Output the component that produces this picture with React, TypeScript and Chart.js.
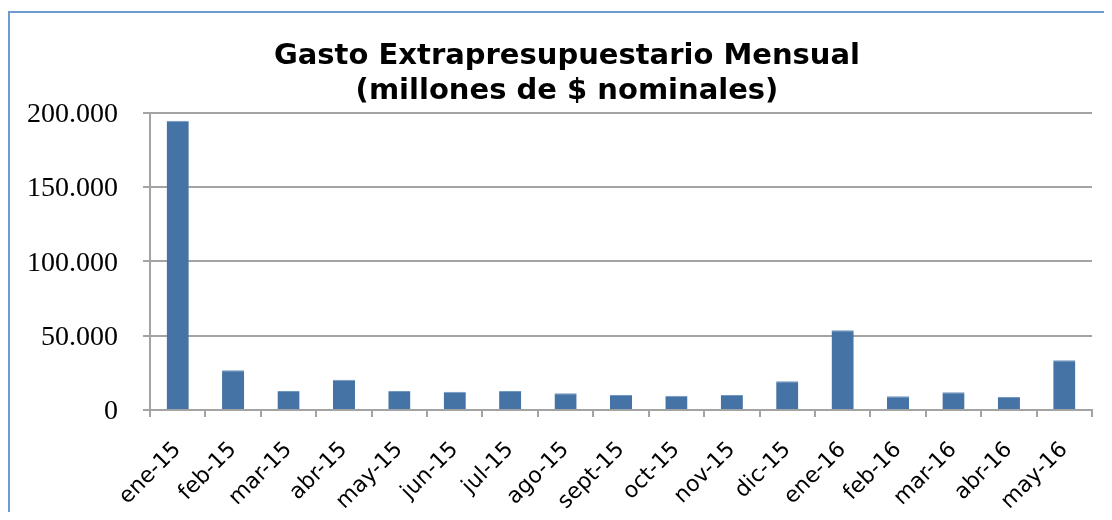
import React, { useEffect, useRef } from "react";
import { Chart, registerables } from "chart.js";

Chart.register(...registerables);

const categories = [
  "ene-15", "feb-15", "mar-15", "abr-15", "may-15", "jun-15", "jul-15", "ago-15",
  "sept-15", "oct-15", "nov-15", "dic-15", "ene-16", "feb-16", "mar-16", "abr-16", "may-16",
];
const gasto = [
  194600, 26700, 12800, 20400, 12800, 12300, 12800, 11200,
  10100, 9600, 10100, 19300, 53600, 9200, 11900, 8800, 33400,
];
const titleLines = ["Gasto Extrapresupuestario Mensual", "(millones de $ nominales)"];
const yMin = 0;
const yMax = 200000;
const yStep = 50000;

const fmt = (v: number) => String(Math.round(v)).replace(/\B(?=(\d{3})+(?!\d))/g, ".");

// shifts the title's horizontal box so it is centred like the original chart object
const titleShift = {
  id: "titleShift",
  afterLayout(chart: any) {
    const t = chart.titleBlock;
    if (t) {
      t.left = 32;
      t.right = chart.chartArea.right;
      t.width = t.right - t.left;
    }
  },
};

export default function App() {
  const ref = useRef<HTMLCanvasElement | null>(null);
  useEffect(() => {
    if (!ref.current) return;
    const gridColor = "#a3a3a3";
    const chart = new Chart(ref.current, {
      type: "bar",
      data: {
        labels: categories,
        datasets: [
          {
            data: gasto,
            backgroundColor: "#4673a5",
            borderColor: "#7096c2",
            borderWidth: { top: 1, left: 0, right: 0, bottom: 0 },
            borderSkipped: "bottom",
            barPercentage: 0.4,
            categoryPercentage: 1,
          },
        ],
      },
      plugins: [titleShift],
      options: {
        animation: false,
        responsive: true,
        maintainAspectRatio: false,
        layout: { padding: { left: 0, right: 20, top: 0, bottom: 0 } },
        plugins: {
          legend: { display: false },
          tooltip: { enabled: false },
          title: {
            display: true,
            text: titleLines,
            color: "#000",
            font: { family: "'DejaVu Sans', Verdana, sans-serif", size: 29, weight: "bold", lineHeight: 1.2 },
            padding: { top: 26, bottom: 4 },
          },
        },
        scales: {
          x: {
            grid: {
              display: true,
              drawOnChartArea: false,
              drawTicks: true,
              tickLength: 7,
              color: gridColor,
              lineWidth: 2,
              offset: true,
            },
            border: { display: true, color: gridColor, width: 2 },
            ticks: {
              color: "#000",
              font: { family: "'DejaVu Sans', Verdana, sans-serif", size: 22 },
              minRotation: 45,
              maxRotation: 45,
              padding: 20,
              autoSkip: false,
            },
            afterFit: (s: any) => {
              s.height = 102;
            },
          },
          y: {
            min: yMin,
            max: yMax,
            grid: {
              color: gridColor,
              lineWidth: 2,
              tickLength: 7,
              drawTicks: true,
            },
            border: { display: true, color: gridColor, width: 2 },
            ticks: {
              stepSize: yStep,
              color: "#000",
              font: { family: "'Liberation Serif', 'Times New Roman', serif", size: 28 },
              padding: 25,
              labelOffset: 2,
              callback: (v: any) => fmt(Number(v)),
            },
            afterFit: (s: any) => {
              s.width = 140;
            },
          },
        },
      },
    });
    return () => chart.destroy();
  }, []);

  return (
    <div style={{ paddingTop: 3 }}>
      <div
        style={{
          width: 1102,
          height: 499,
          borderLeft: "2px solid #6f9bd1",
          borderTop: "2px solid #6f9bd1",
          position: "relative",
          background: "#fff",
        }}
      >
        <canvas ref={ref} />
      </div>
    </div>
  );
}
